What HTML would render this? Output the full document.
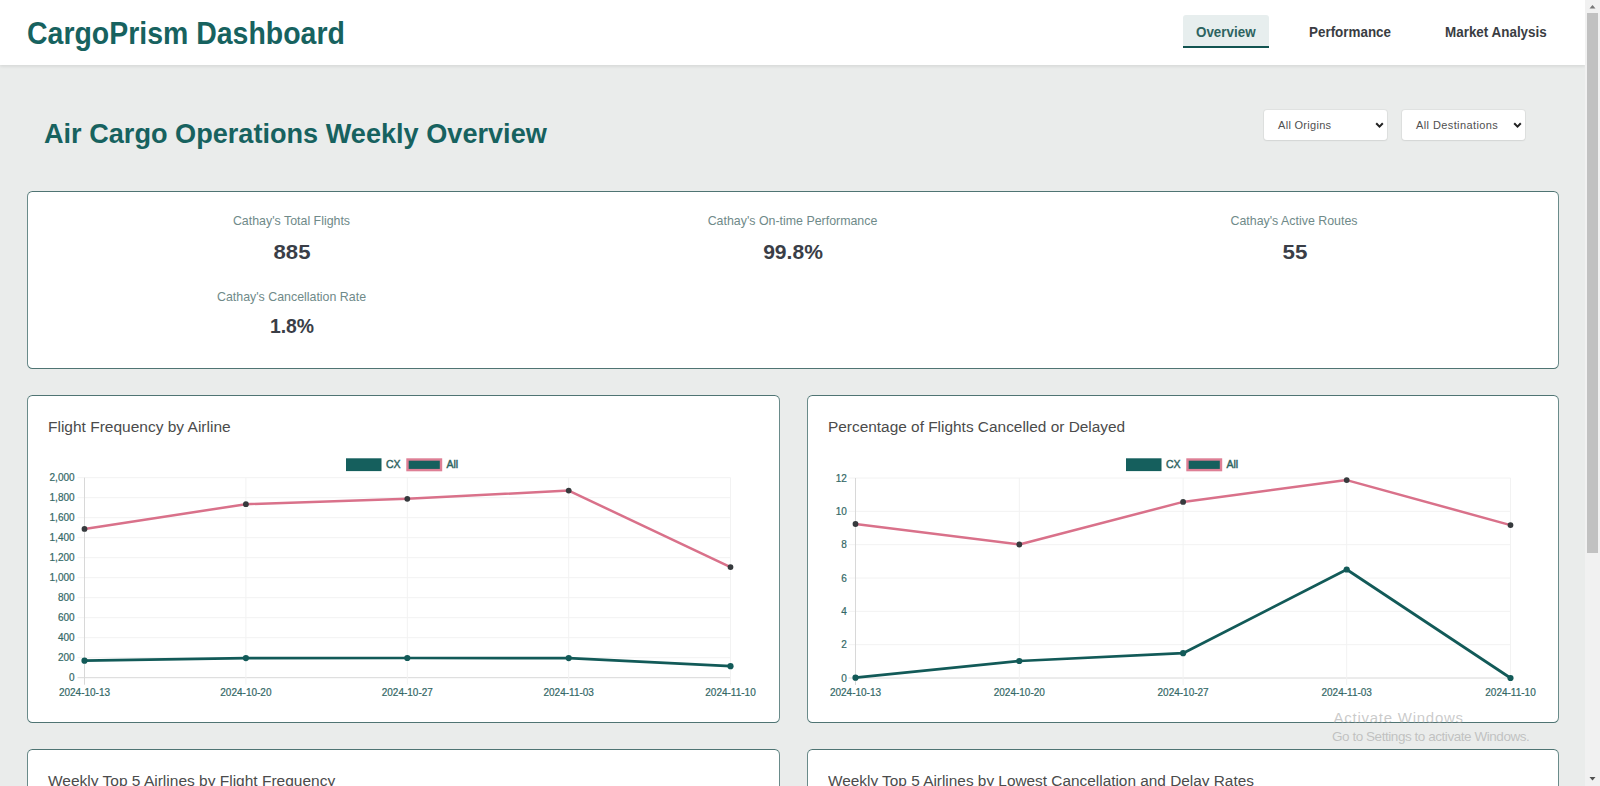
<!DOCTYPE html>
<html>
<head>
<meta charset="utf-8">
<style>
html,body{margin:0;padding:0;}
body{width:1600px;height:786px;overflow:hidden;position:relative;background:#eaeceb;font-family:"Liberation Sans",sans-serif;}
.t{position:absolute;white-space:nowrap;line-height:1;}
#hdr{position:absolute;left:0;top:0;width:1585px;height:65px;background:#fff;box-shadow:0 1.5px 3px rgba(0,0,0,0.09);}
.card{position:absolute;background:#fff;border:1px solid;border-color:#4f7473 #6a8b8a;border-radius:5.5px;box-sizing:border-box;}
.sel{position:absolute;background:#fff;border-radius:3px;box-shadow:0 0 0 1px rgba(0,0,0,0.04),0 1px 2px rgba(0,0,0,0.06);}
#sb{position:absolute;left:1585px;top:0;width:15px;height:786px;background:#f1f1f1;}
#thumb{position:absolute;left:2px;top:13px;width:11px;height:540px;background:#c1c1c1;}
.kl{position:absolute;white-space:nowrap;line-height:1;font-size:12.4px;color:#6f8a89;text-align:center;width:400px;}
.kv{position:absolute;white-space:nowrap;line-height:1;font-size:19.8px;font-weight:bold;color:#3a3e47;text-align:center;width:400px;}
.ct{position:absolute;white-space:nowrap;line-height:1;font-size:15.5px;color:#4b4b4b;}
svg text{font-family:"Liberation Sans",sans-serif;}
.ax{font-size:10px;fill:#336866;stroke:#336866;stroke-width:0.2px;}
.lg{font-size:10.5px;fill:#2f6462;stroke:#2f6462;stroke-width:0.45px;}
</style>
</head>
<body>
<div id="hdr">
  <div class="t" id="logo" style="left:27px;top:18px;font-size:30.5px;font-weight:bold;color:#17625f;transform-origin:0 0;transform:scaleX(0.933);">CargoPrism Dashboard</div>
  <div style="position:absolute;left:1183px;top:15px;width:86px;height:33px;background:#e7eeee;border-radius:3px 3px 0 0;"></div>
  <div style="position:absolute;left:1183px;top:45.5px;width:86px;height:2.5px;background:#125451;"></div>
  <div class="t" style="left:1196px;top:25px;font-size:14.5px;font-weight:bold;color:#2d6360;transform-origin:0 0;transform:scaleX(0.924);">Overview</div>
  <div class="t" style="left:1309px;top:25px;font-size:14.5px;font-weight:bold;color:#3a3d42;transform-origin:0 0;transform:scaleX(0.925);">Performance</div>
  <div class="t" style="left:1445px;top:25px;font-size:14.5px;font-weight:bold;color:#3a3d42;transform-origin:0 0;transform:scaleX(0.926);">Market Analysis</div>
</div>

<div class="t" style="left:44px;top:120px;font-size:27.25px;font-weight:bold;color:#17625f;transform-origin:0 0;transform:scaleX(0.995);">Air Cargo Operations Weekly Overview</div>

<div class="sel" style="left:1264px;top:110px;width:123px;height:30px;">
  <div class="t" style="left:14px;top:9.5px;font-size:11px;color:#505050;letter-spacing:0.3px;">All Origins</div>
  <svg width="10" height="7" style="position:absolute;left:111px;top:12px;"><path d="M1.2,1.2 L4.5,4.6 L7.8,1.2" fill="none" stroke="#222" stroke-width="2"/></svg>
</div>
<div class="sel" style="left:1402px;top:110px;width:123px;height:30px;">
  <div class="t" style="left:14px;top:9.5px;font-size:11px;color:#505050;letter-spacing:0.4px;">All Destinations</div>
  <svg width="10" height="7" style="position:absolute;left:111px;top:12px;"><path d="M1.2,1.2 L4.5,4.6 L7.8,1.2" fill="none" stroke="#222" stroke-width="2"/></svg>
</div>

<div class="card" style="left:27px;top:191px;width:1532px;height:178px;"></div>
<div class="kl" style="left:91.5px;top:215px;">Cathay's Total Flights</div>
<div class="kv" style="left:91.5px;top:242.5px;transform:scaleX(1.12);">885</div>
<div class="kl" style="left:91.5px;top:290.5px;">Cathay's Cancellation Rate</div>
<div class="kv" style="left:91.5px;top:317px;transform:scaleX(0.98);">1.8%</div>
<div class="kl" style="left:592.5px;top:215px;">Cathay's On-time Performance</div>
<div class="kv" style="left:592.5px;top:242.5px;transform:scaleX(1.065);">99.8%</div>
<div class="kl" style="left:1094px;top:215px;">Cathay's Active Routes</div>
<div class="kv" style="left:1094.5px;top:242.5px;transform:scaleX(1.13);">55</div>

<div class="card" style="left:27px;top:395px;width:753px;height:328px;">
  <div class="ct" style="left:20px;top:23px;">Flight Frequency by Airline</div>
  <svg width="753" height="328" style="position:absolute;left:-1px;top:-1px;"><line x1="50.5" y1="282.70" x2="703.5" y2="282.70" stroke="#d8d8d8" stroke-width="1"/><line x1="50.5" y1="262.70" x2="703.5" y2="262.70" stroke="#f2f2f2" stroke-width="1"/><line x1="50.5" y1="242.70" x2="703.5" y2="242.70" stroke="#f2f2f2" stroke-width="1"/><line x1="50.5" y1="222.70" x2="703.5" y2="222.70" stroke="#f2f2f2" stroke-width="1"/><line x1="50.5" y1="202.70" x2="703.5" y2="202.70" stroke="#f2f2f2" stroke-width="1"/><line x1="50.5" y1="182.70" x2="703.5" y2="182.70" stroke="#f2f2f2" stroke-width="1"/><line x1="50.5" y1="162.70" x2="703.5" y2="162.70" stroke="#f2f2f2" stroke-width="1"/><line x1="50.5" y1="142.70" x2="703.5" y2="142.70" stroke="#f2f2f2" stroke-width="1"/><line x1="50.5" y1="122.70" x2="703.5" y2="122.70" stroke="#f2f2f2" stroke-width="1"/><line x1="50.5" y1="102.70" x2="703.5" y2="102.70" stroke="#f2f2f2" stroke-width="1"/><line x1="50.5" y1="82.70" x2="703.5" y2="82.70" stroke="#f2f2f2" stroke-width="1"/><line x1="57.50" y1="82.7" x2="57.50" y2="289.7" stroke="#d8d8d8" stroke-width="1"/><line x1="218.90" y1="82.7" x2="218.90" y2="289.7" stroke="#f2f2f2" stroke-width="1"/><line x1="380.30" y1="82.7" x2="380.30" y2="289.7" stroke="#f2f2f2" stroke-width="1"/><line x1="541.70" y1="82.7" x2="541.70" y2="289.7" stroke="#f2f2f2" stroke-width="1"/><line x1="703.50" y1="82.7" x2="703.50" y2="289.7" stroke="#f2f2f2" stroke-width="1"/><text x="47.6" y="286.30" text-anchor="end" class="ax">0</text><text x="47.6" y="266.30" text-anchor="end" class="ax">200</text><text x="47.6" y="246.30" text-anchor="end" class="ax">400</text><text x="47.6" y="226.30" text-anchor="end" class="ax">600</text><text x="47.6" y="206.30" text-anchor="end" class="ax">800</text><text x="47.6" y="186.30" text-anchor="end" class="ax">1,000</text><text x="47.6" y="166.30" text-anchor="end" class="ax">1,200</text><text x="47.6" y="146.30" text-anchor="end" class="ax">1,400</text><text x="47.6" y="126.30" text-anchor="end" class="ax">1,600</text><text x="47.6" y="106.30" text-anchor="end" class="ax">1,800</text><text x="47.6" y="86.30" text-anchor="end" class="ax">2,000</text><text x="57.50" y="300.60" text-anchor="middle" class="ax">2024-10-13</text><text x="218.90" y="300.60" text-anchor="middle" class="ax">2024-10-20</text><text x="380.30" y="300.60" text-anchor="middle" class="ax">2024-10-27</text><text x="541.70" y="300.60" text-anchor="middle" class="ax">2024-11-03</text><text x="703.50" y="300.60" text-anchor="middle" class="ax">2024-11-10</text><path d="M57.50,133.90 L218.90,109.20 L380.30,103.80 L541.70,95.60 L703.50,172.10" fill="none" stroke="#d9718a" stroke-width="2.5" stroke-linejoin="round"/><circle cx="57.50" cy="133.90" r="2.9" fill="#363a3d"/><circle cx="218.90" cy="109.20" r="2.9" fill="#363a3d"/><circle cx="380.30" cy="103.80" r="2.9" fill="#363a3d"/><circle cx="541.70" cy="95.60" r="2.9" fill="#363a3d"/><circle cx="703.50" cy="172.10" r="2.9" fill="#363a3d"/><path d="M57.50,265.70 L218.90,263.10 L380.30,263.00 L541.70,263.10 L703.50,271.20" fill="none" stroke="#125a58" stroke-width="2.7" stroke-linejoin="round"/><circle cx="57.50" cy="265.70" r="3.1" fill="#125a58"/><circle cx="218.90" cy="263.10" r="3.1" fill="#125a58"/><circle cx="380.30" cy="263.00" r="3.1" fill="#125a58"/><circle cx="541.70" cy="263.10" r="3.1" fill="#125a58"/><circle cx="703.50" cy="271.20" r="3.1" fill="#125a58"/><rect x="319.0" y="63.3" width="35.5" height="12.8" fill="#155f5d"/><text x="359.0" y="72.8" class="lg">CX</text><rect x="380.5" y="64.5" width="33.5" height="10.6" fill="#155f5d" stroke="#de7f95" stroke-width="2.4"/><text x="419.5" y="72.8" class="lg">All</text></svg>
</div>
<div class="card" style="left:807px;top:395px;width:752px;height:328px;">
  <div class="ct" style="left:19.5px;top:23px;transform-origin:0 0;transform:scaleX(0.994);">Percentage of Flights Cancelled or Delayed</div>
  <svg width="753" height="328" style="position:absolute;left:-1px;top:-1px;"><line x1="41.5" y1="283.00" x2="703.5" y2="283.00" stroke="#d8d8d8" stroke-width="1"/><line x1="41.5" y1="249.67" x2="703.5" y2="249.67" stroke="#f2f2f2" stroke-width="1"/><line x1="41.5" y1="216.33" x2="703.5" y2="216.33" stroke="#f2f2f2" stroke-width="1"/><line x1="41.5" y1="183.00" x2="703.5" y2="183.00" stroke="#f2f2f2" stroke-width="1"/><line x1="41.5" y1="149.67" x2="703.5" y2="149.67" stroke="#f2f2f2" stroke-width="1"/><line x1="41.5" y1="116.33" x2="703.5" y2="116.33" stroke="#f2f2f2" stroke-width="1"/><line x1="41.5" y1="83.00" x2="703.5" y2="83.00" stroke="#f2f2f2" stroke-width="1"/><line x1="48.50" y1="83.0" x2="48.50" y2="290.0" stroke="#d8d8d8" stroke-width="1"/><line x1="212.30" y1="83.0" x2="212.30" y2="290.0" stroke="#f2f2f2" stroke-width="1"/><line x1="376.10" y1="83.0" x2="376.10" y2="290.0" stroke="#f2f2f2" stroke-width="1"/><line x1="539.70" y1="83.0" x2="539.70" y2="290.0" stroke="#f2f2f2" stroke-width="1"/><line x1="703.50" y1="83.0" x2="703.50" y2="290.0" stroke="#f2f2f2" stroke-width="1"/><text x="39.8" y="286.60" text-anchor="end" class="ax">0</text><text x="39.8" y="253.27" text-anchor="end" class="ax">2</text><text x="39.8" y="219.93" text-anchor="end" class="ax">4</text><text x="39.8" y="186.60" text-anchor="end" class="ax">6</text><text x="39.8" y="153.27" text-anchor="end" class="ax">8</text><text x="39.8" y="119.93" text-anchor="end" class="ax">10</text><text x="39.8" y="86.60" text-anchor="end" class="ax">12</text><text x="48.50" y="300.60" text-anchor="middle" class="ax">2024-10-13</text><text x="212.30" y="300.60" text-anchor="middle" class="ax">2024-10-20</text><text x="376.10" y="300.60" text-anchor="middle" class="ax">2024-10-27</text><text x="539.70" y="300.60" text-anchor="middle" class="ax">2024-11-03</text><text x="703.50" y="300.60" text-anchor="middle" class="ax">2024-11-10</text><path d="M48.50,129.00 L212.30,149.50 L376.10,106.90 L539.70,85.10 L703.50,130.10" fill="none" stroke="#d9718a" stroke-width="2.5" stroke-linejoin="round"/><circle cx="48.50" cy="129.00" r="2.9" fill="#363a3d"/><circle cx="212.30" cy="149.50" r="2.9" fill="#363a3d"/><circle cx="376.10" cy="106.90" r="2.9" fill="#363a3d"/><circle cx="539.70" cy="85.10" r="2.9" fill="#363a3d"/><circle cx="703.50" cy="130.10" r="2.9" fill="#363a3d"/><path d="M48.50,282.70 L212.30,266.00 L376.10,258.20 L539.70,174.50 L703.50,283.00" fill="none" stroke="#125a58" stroke-width="2.7" stroke-linejoin="round"/><circle cx="48.50" cy="282.70" r="3.1" fill="#125a58"/><circle cx="212.30" cy="266.00" r="3.1" fill="#125a58"/><circle cx="376.10" cy="258.20" r="3.1" fill="#125a58"/><circle cx="539.70" cy="174.50" r="3.1" fill="#125a58"/><circle cx="703.50" cy="283.00" r="3.1" fill="#125a58"/><rect x="319.0" y="63.3" width="35.5" height="12.8" fill="#155f5d"/><text x="359.0" y="72.8" class="lg">CX</text><rect x="380.5" y="64.5" width="33.5" height="10.6" fill="#155f5d" stroke="#de7f95" stroke-width="2.4"/><text x="419.5" y="72.8" class="lg">All</text></svg>
</div>
<div class="card" style="left:27px;top:749px;width:753px;height:100px;">
  <div class="ct" style="left:20px;top:23px;">Weekly Top 5 Airlines by Flight Frequency</div>
</div>
<div class="card" style="left:807px;top:749px;width:752px;height:100px;">
  <div class="ct" style="left:19.5px;top:23px;transform-origin:0 0;transform:scaleX(0.992);">Weekly Top 5 Airlines by Lowest Cancellation and Delay Rates</div>
</div>

<div class="t" style="left:1333.5px;top:709.5px;font-size:15px;color:rgba(150,150,150,0.5);letter-spacing:0.75px;">Activate Windows</div>
<div class="t" style="left:1332px;top:730px;font-size:13.5px;color:rgba(150,150,150,0.5);letter-spacing:-0.45px;">Go to Settings to activate Windows.</div>

<div id="sb"><div id="thumb"></div>
  <svg width="15" height="15" style="position:absolute;left:0;top:0;"><path d="M4.5,8.5 L7.5,5 L10.5,8.5 Z" fill="#777"/></svg>
  <svg width="15" height="15" style="position:absolute;left:0;top:771px;"><path d="M4.5,6 L7.5,9.5 L10.5,6 Z" fill="#505050"/></svg>
</div>
</body>
</html>
